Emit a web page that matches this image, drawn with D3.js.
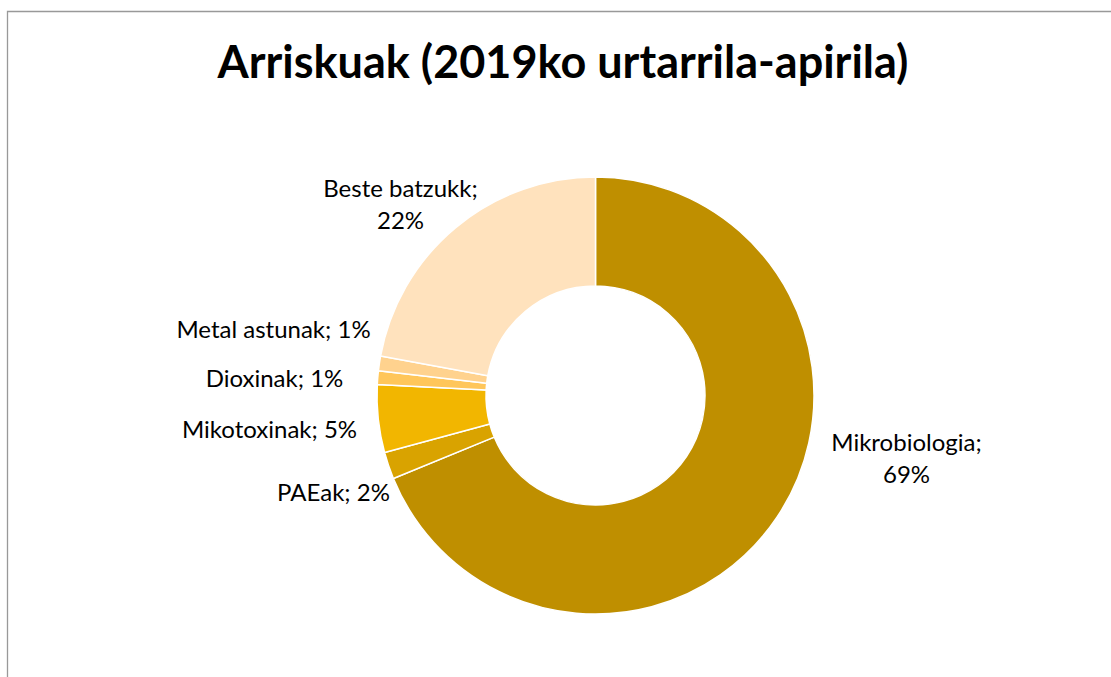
<!DOCTYPE html>
<html>
<head>
<meta charset="utf-8">
<script src="https://cdn.jsdelivr.net/npm/d3@7"></script>
<style>
  html, body { margin: 0; padding: 0; background: #fff; }
  svg { display: block; }
  text { font-family: Lato, "Noto Sans", sans-serif; fill: #000; }
</style>
</head>
<body>
<script>
// risk categories, clockwise from 12 o'clock
const categories = ['Mikrobiologia', 'PAEak', 'Mikotoxinak', 'Dioxinak', 'Metal astunak', 'Beste batzukk'];
const shares = [68.8, 2.0, 5.0, 1.0, 1.1, 22.1];
const labels = ['69%', '2%', '5%', '1%', '1%', '22%'];
const colors = ['#bf8f00', '#d9a300', '#f2b600', '#ffc65a', '#ffd28e', '#ffe2bd'];
const title = 'Arriskuak (2019ko urtarrila-apirila)';

const w = 1111, h = 677;
const cx = 595.5, cy = 395.5;
const outerR = 218.5, innerR = 109.5;

// where each label sits, relative to the donut centre (first line baseline)
const labelLayout = {
  'Mikrobiologia': { dx: 311, dy: 55.5, split: true },
  'PAEak': { dx: -262, dy: 105 },
  'Mikotoxinak': { dx: -326, dy: 42 },
  'Dioxinak': { dx: -321, dy: -9 },
  'Metal astunak': { dx: -322, dy: -58 },
  'Beste batzukk': { dx: -195, dy: -198.5, split: true }
};

const svg = d3.select('body').append('svg')
  .attr('width', w)
  .attr('height', h);

// chart frame (runs off the right and bottom edges)
svg.append('path')
  .attr('d', `M7.5,${h + 5}V11.5H${w + 5}`)
  .attr('fill', 'none')
  .attr('stroke', '#999')
  .attr('stroke-width', 1.3);

svg.append('text')
  .attr('x', 563)
  .attr('y', 78)
  .attr('text-anchor', 'middle')
  .attr('font-weight', 700)
  .attr('font-size', 45)
  .text(title);

const data = categories.map((name, i) => ({ name, value: shares[i], label: labels[i], color: colors[i] }));

const pie = d3.pie()
  .value(d => d.value)
  .sort(null);

const arc = d3.arc()
  .innerRadius(innerR)
  .outerRadius(outerR);

const g = svg.append('g')
  .attr('transform', `translate(${cx},${cy})`);

g.selectAll('path')
  .data(pie(data))
  .join('path')
  .attr('d', arc)
  .attr('fill', d => d.data.color)
  .attr('stroke', '#fff')
  .attr('stroke-width', 1.5)
  .attr('stroke-linejoin', 'round');

const lab = g.selectAll('text')
  .data(data)
  .join('text')
  .attr('text-anchor', 'middle')
  .attr('font-size', 24)
  .attr('transform', d => `translate(${labelLayout[d.name].dx},${labelLayout[d.name].dy})`);

lab.each(function (d) {
  const t = d3.select(this);
  if (labelLayout[d.name].split) {
    t.append('tspan').attr('x', 0).attr('y', 0).text(d.name + ';');
    t.append('tspan').attr('x', 0).attr('y', 32).text(d.label);
  } else {
    t.text(`${d.name}; ${d.label}`);
  }
});
</script>
</body>
</html>
